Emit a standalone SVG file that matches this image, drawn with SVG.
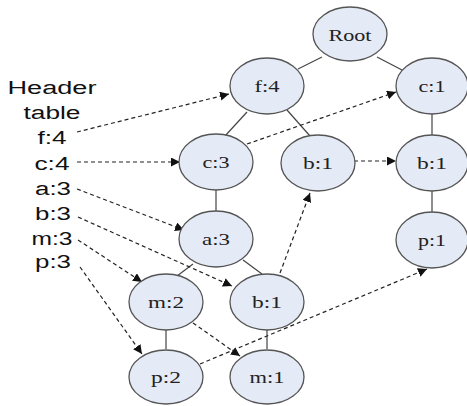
<svg xmlns="http://www.w3.org/2000/svg" width="467" height="406" viewBox="0 0 467 406">
<defs>
<marker id="ah" viewBox="0 0 10 10" refX="10" refY="5" markerWidth="9" markerHeight="9" markerUnits="userSpaceOnUse" orient="auto">
<path d="M0,0 L10,5 L0,10 z" fill="#111"/>
</marker>
</defs>
<style>
.n ellipse{fill:#e5ebf6;stroke:#555;stroke-width:1.3}
.n text{font-family:"Liberation Serif","Times New Roman",serif;font-size:17px;fill:#222;text-anchor:middle}
.e line{stroke:#444;stroke-width:1.2}
.d line{stroke:#222;stroke-width:1.2;stroke-dasharray:4 3;marker-end:url(#ah)}
.h text{font-family:"Liberation Sans",Arial,sans-serif;font-size:18px;fill:#111;text-anchor:middle}
</style>
<rect width="467" height="406" fill="#fff"/>
<g id="header" class="h">
<text x="52" y="94" textLength="89" lengthAdjust="spacingAndGlyphs">Header</text>
<text x="52" y="119" textLength="57" lengthAdjust="spacingAndGlyphs">table</text>
<text x="52" y="144" textLength="29" lengthAdjust="spacingAndGlyphs">f:4</text>
<text x="52" y="170" textLength="35" lengthAdjust="spacingAndGlyphs">c:4</text>
<text x="53" y="195" textLength="36" lengthAdjust="spacingAndGlyphs">a:3</text>
<text x="53" y="220" textLength="36" lengthAdjust="spacingAndGlyphs">b:3</text>
<text x="52" y="245" textLength="41" lengthAdjust="spacingAndGlyphs">m:3</text>
<text x="53" y="268" textLength="36" lengthAdjust="spacingAndGlyphs">p:3</text>
</g>
<g id="connectors">
<g class="e">
<line x1="322" y1="57" x2="298" y2="69"/>
<line x1="377" y1="57" x2="402" y2="70"/>
<line x1="247" y1="112" x2="225" y2="136"/>
<line x1="287" y1="110" x2="310" y2="136"/>
<line x1="432" y1="114" x2="432" y2="135"/>
<line x1="216" y1="190" x2="216" y2="211"/>
<line x1="193" y1="264" x2="177" y2="276"/>
<line x1="243" y1="260" x2="262" y2="274"/>
<line x1="166" y1="330" x2="166" y2="349"/>
<line x1="267" y1="330" x2="267" y2="349"/>
<line x1="432" y1="191" x2="432" y2="212"/>
</g>
<g class="d">
<line x1="77" y1="132" x2="229" y2="94"/>
<line x1="77" y1="162" x2="180" y2="162"/>
<line x1="77" y1="189" x2="184" y2="230"/>
<line x1="78" y1="217" x2="232" y2="286"/>
<line x1="78" y1="240" x2="142" y2="282"/>
<line x1="80" y1="267" x2="142" y2="354"/>
<line x1="247" y1="144" x2="396" y2="92"/>
<line x1="354" y1="161" x2="396" y2="161"/>
<line x1="280" y1="273" x2="310" y2="193"/>
<line x1="193" y1="323" x2="240" y2="356"/>
<line x1="200" y1="364" x2="427" y2="269"/>
</g>
</g>
<g id="root" class="n"><ellipse cx="350" cy="34" rx="37" ry="27"/><text x="350" y="41" textLength="43" lengthAdjust="spacingAndGlyphs">Root</text></g>
<g id="f4" class="n"><ellipse cx="267" cy="86" rx="37" ry="28"/><text x="267" y="92" textLength="25" lengthAdjust="spacingAndGlyphs">f:4</text></g>
<g id="c1" class="n"><ellipse cx="432" cy="86" rx="36" ry="28"/><text x="432" y="92" textLength="27" lengthAdjust="spacingAndGlyphs">c:1</text></g>
<g id="c3" class="n"><ellipse cx="216" cy="162" rx="37" ry="28"/><text x="216" y="168" textLength="27" lengthAdjust="spacingAndGlyphs">c:3</text></g>
<g id="b1a" class="n"><ellipse cx="318" cy="163" rx="37" ry="28"/><text x="318" y="169" textLength="30" lengthAdjust="spacingAndGlyphs">b:1</text></g>
<g id="b1b" class="n"><ellipse cx="432" cy="163" rx="36" ry="28"/><text x="432" y="169" textLength="30" lengthAdjust="spacingAndGlyphs">b:1</text></g>
<g id="a3" class="n"><ellipse cx="216" cy="239" rx="37" ry="28"/><text x="216" y="245" textLength="28" lengthAdjust="spacingAndGlyphs">a:3</text></g>
<g id="p1" class="n"><ellipse cx="432" cy="240" rx="36" ry="28"/><text x="432" y="246" textLength="28" lengthAdjust="spacingAndGlyphs">p:1</text></g>
<g id="m2" class="n"><ellipse cx="166" cy="302" rx="37" ry="28"/><text x="166" y="308" textLength="36" lengthAdjust="spacingAndGlyphs">m:2</text></g>
<g id="b1c" class="n"><ellipse cx="267" cy="302" rx="37" ry="28"/><text x="267" y="308" textLength="30" lengthAdjust="spacingAndGlyphs">b:1</text></g>
<g id="p2" class="n"><ellipse cx="166" cy="377" rx="37" ry="27"/><text x="166" y="383" textLength="30" lengthAdjust="spacingAndGlyphs">p:2</text></g>
<g id="m1" class="n"><ellipse cx="267" cy="377" rx="37" ry="27"/><text x="267" y="383" textLength="35" lengthAdjust="spacingAndGlyphs">m:1</text></g>
</svg>
